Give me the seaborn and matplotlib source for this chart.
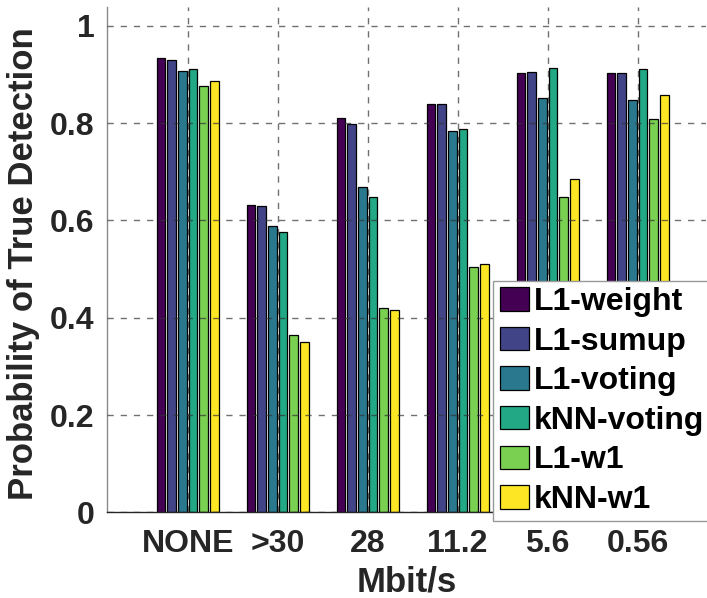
import numpy as np
import pandas as pd
import matplotlib
matplotlib.use("Agg")
import matplotlib.pyplot as plt
import seaborn as sns

# Data rates (x categories) and detection methods (hue)
rates = ["NONE", ">30", "28", "11.2", "5.6", "0.56"]
methods = ["L1-weight", "L1-sumup", "L1-voting", "kNN-voting", "L1-w1", "kNN-w1"]

l1_weight = [0.933, 0.632, 0.811, 0.840, 0.903, 0.902]
l1_sumup = [0.929, 0.629, 0.799, 0.840, 0.904, 0.902]
l1_voting = [0.907, 0.588, 0.669, 0.783, 0.851, 0.847]
knn_voting = [0.911, 0.577, 0.649, 0.787, 0.914, 0.912]
l1_w1 = [0.877, 0.364, 0.419, 0.504, 0.649, 0.808]
knn_w1 = [0.887, 0.351, 0.415, 0.510, 0.685, 0.858]

yticks = [0, 0.2, 0.4, 0.6, 0.8, 1.0]
ytick_labels = ["0", "0.2", "0.4", "0.6", "0.8", "1"]

bar_colors = ["#440154", "#414487", "#2a788e", "#22a884", "#7ad151", "#fde725"]

series = [l1_weight, l1_sumup, l1_voting, knn_voting, l1_w1, knn_w1]
df = pd.DataFrame(
    [(r, m, v) for m, vals in zip(methods, series) for r, v in zip(rates, vals)],
    columns=["rate", "method", "prob"],
)

sns.set_style("white")
plt.rcParams["font.family"] = ["Liberation Sans", "DejaVu Sans"]
plt.rcParams["font.weight"] = "bold"
text_color = "#262626"

fig = plt.figure(figsize=(7.07, 5.98), dpi=100)
ax = fig.add_axes([0.151, 0.1433, 0.8476, 0.8445])

sns.barplot(
    data=df, x="rate", y="prob", hue="method",
    order=rates, hue_order=methods, palette=bar_colors, saturation=1,
    width=0.71, gap=0.19, edgecolor="black", linewidth=0.9,
    errorbar=None, ax=ax,
)

ax.set_xlim(-0.9, 5.76)
ax.set_ylim(0, 1.038)
ax.set_yticks(yticks)
ax.set_yticklabels(ytick_labels)

# dashed grid drawn on top of the bars
ax.set_axisbelow(False)
ax.grid(True, axis="both", color="#333333", alpha=0.7, linewidth=1.0,
        linestyle=(0, (4.5, 5)))
for gl in ax.get_xgridlines() + ax.get_ygridlines():
    gl.set_zorder(5)

ax.tick_params(axis="both", length=0, labelsize=23, colors=text_color)
ax.tick_params(axis="x", pad=12)
ax.tick_params(axis="y", pad=9)
for lbl in ax.get_xticklabels() + ax.get_yticklabels():
    lbl.set_fontweight("bold")

ax.set_xlabel("Mbit/s", fontsize=25, fontweight="bold", color=text_color, labelpad=5)
ax.set_ylabel("Probability of True Detection", fontsize=25, fontweight="bold",
              color=text_color)
ax.yaxis.set_label_coords(-0.111, 0.493)

for side in ["top", "right"]:
    ax.spines[side].set_visible(False)
ax.spines["left"].set_color("#8a8a8a")
ax.spines["left"].set_linewidth(1.0)
ax.spines["bottom"].set_color(text_color)
ax.spines["bottom"].set_linewidth(1.0)

handles, labels = ax.get_legend_handles_labels()
if ax.get_legend() is not None:
    ax.get_legend().remove()
# legend box runs past the right edge of the figure
leg_x0 = 493.3 / 707
leg_top = 1 - 280.7 / 598
leg = ax.legend(
    handles, labels, loc="upper left", mode="expand",
    bbox_to_anchor=(leg_x0, leg_top, 1.03 - leg_x0, 0.0),
    bbox_transform=fig.transFigure,
    prop={"size": 23, "weight": "bold"}, frameon=True, fancybox=False,
    framealpha=1.0, edgecolor="#999999", borderpad=0.2, handlelength=0.92,
    handleheight=0.75, handletextpad=0.15, labelspacing=0.3, borderaxespad=0,
)
leg.get_frame().set_linewidth(1.0)
leg.set_zorder(10)
for t in leg.get_texts():
    t.set_color("black")

fig.savefig("out.png", dpi=100)
